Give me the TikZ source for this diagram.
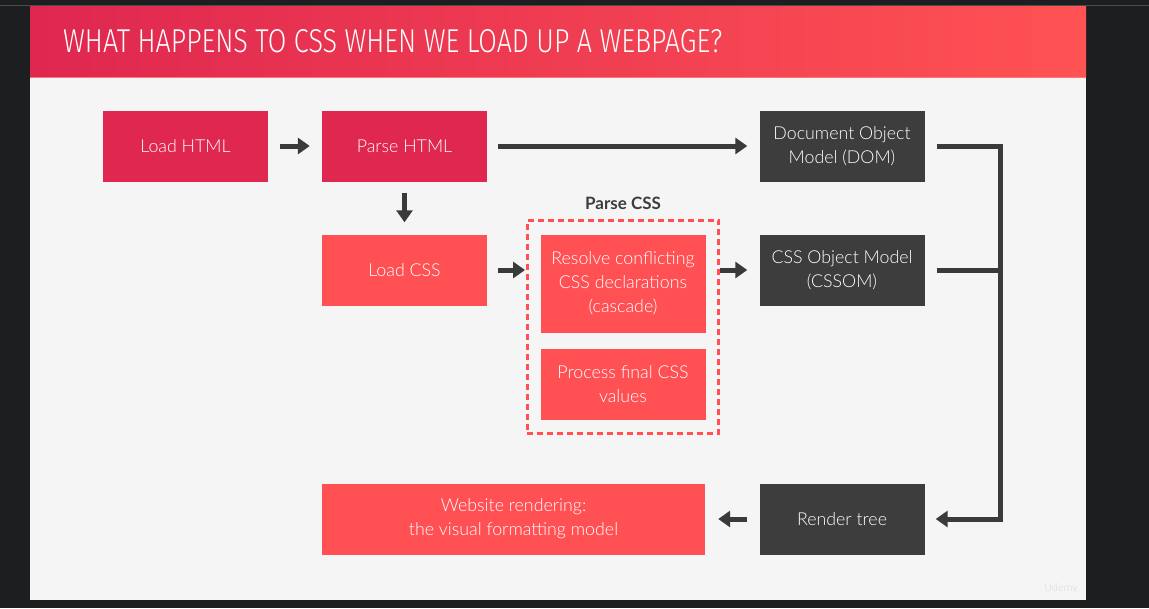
\documentclass[tikz,border=0pt]{standalone}
\usepackage{fontspec}
\usepackage{graphicx}
\setmainfont{Lato}[UprightFont={* Light}, BoldFont={* Bold}]
\newfontfamily\titlefont{Fira Sans}[UprightFont={* Light}]
\usetikzlibrary{arrows.meta,fit}
\definecolor{pagebg}{HTML}{1D1E20}
\definecolor{slidebg}{HTML}{F5F5F5}
\definecolor{crimson}{HTML}{E0274F}
\definecolor{coral}{HTML}{FF5054}
\definecolor{darkbox}{HTML}{3D3D3D}
\definecolor{arrowgray}{HTML}{3A3A3A}
\definecolor{headleft}{HTML}{DF2750}
\definecolor{headright}{HTML}{FF5253}
\tikzset{
  box/.style={minimum width=165pt, minimum height=71pt, inner sep=0pt, align=center,
    text=white, font=\fontsize{17.8}{24}\selectfont},
  crimbox/.style={box, fill=crimson},
  coralbox/.style={box, fill=coral},
  darkbox/.style={box, fill=darkbox},
  flow/.style={draw=arrowgray, line width=5pt,
    -{Triangle[length=12pt,width=16pt]}},
  busline/.style={draw=arrowgray, line width=5pt, line join=miter},
}
\begin{document}
\begin{tikzpicture}[x=1pt,y=-1pt]
\useasboundingbox (0,0) rectangle (1149,608);
% window and slide
\fill[pagebg] (0,0) rectangle (1149,608);
\draw[color=black!70, line width=1pt] (0,5.5) -- (1149,5.5);
\fill[slidebg] (30,6) rectangle (1086,600);
% header band
\shade[left color=headleft, right color=headright] (30,6) rectangle (1086,77);
\draw[color=headright!80!white, line width=1pt] (30,77) -- (1086,77);
\node[anchor=west, inner sep=0pt, text=white] (title) at (63,41.5)
  {\resizebox{659pt}{23pt}{\titlefont WHAT HAPPENS TO CSS WHEN WE LOAD UP A WEBPAGE?}};

% process boxes
\node[crimbox] (loadhtml) at (185.5,146) {Load HTML};
\node[crimbox] (parsehtml) at (404.5,146) {Parse HTML};
\node[darkbox] (dom) at (842,146) {Document Object\\Model (DOM)};
\node[coralbox] (loadcss) at (404.5,270) {Load CSS};
\node[coralbox, minimum height=98pt] (resolve) at (623,283.5) {Resolve conflicting\\CSS declarations\\(cascade)};
\node[coralbox, minimum height=71pt] (process) at (623,384) {Process final CSS\\values};
\node[darkbox] (cssom) at (842,270) {CSS Object Model\\(CSSOM)};
\node[darkbox] (render) at (842,519) {Render tree};
\node[coralbox, minimum width=383pt] (website) at (513.5,519) {Website rendering:\\the visual formatting model};

% parse CSS group
\node[draw=coral, dashed, dash pattern=on 6pt off 4pt, line width=2.5pt,
  fit=(resolve)(process), inner xsep=13pt, inner ysep=14pt] (parsecss) {};
\node[text=darkbox, font=\fontsize{17}{20}\selectfont\bfseries] (parselabel) at (623,203) {Parse CSS};

% connectors
\draw[flow, shorten <=12pt, shorten >=12pt] (loadhtml) -- (parsehtml);
\draw[flow, shorten <=11pt, shorten >=12pt] (parsehtml) -- (dom);
\draw[flow, shorten <=11pt, shorten >=12pt] (parsehtml) -- (loadcss);
\draw[flow, shorten <=11pt, shorten >=1pt] (loadcss) -- (loadcss -| parsecss.west);
\draw[flow, shorten <=0pt, shorten >=12pt] (loadcss -| parsecss.east) -- (loadcss -| cssom.west);
\draw[flow, shorten <=12pt, shorten >=13pt] (render) -- (website);

% collecting bus on the right
\coordinate (bus) at (1000,0);
\draw[busline] ([xshift=12pt]cssom.east) -- (cssom.east -| bus);
\draw[busline, -{Triangle[length=12pt,width=16pt]}]
  ([xshift=12pt]dom.east) -- (dom.east -| bus) -- (render.east -| bus) -- ([xshift=11pt]render.east);

% watermark
\node[text=white!70!gray, font=\fontsize{11}{12}\selectfont] (mark) at (1061,588) {Udemy};
\end{tikzpicture}
\end{document}
